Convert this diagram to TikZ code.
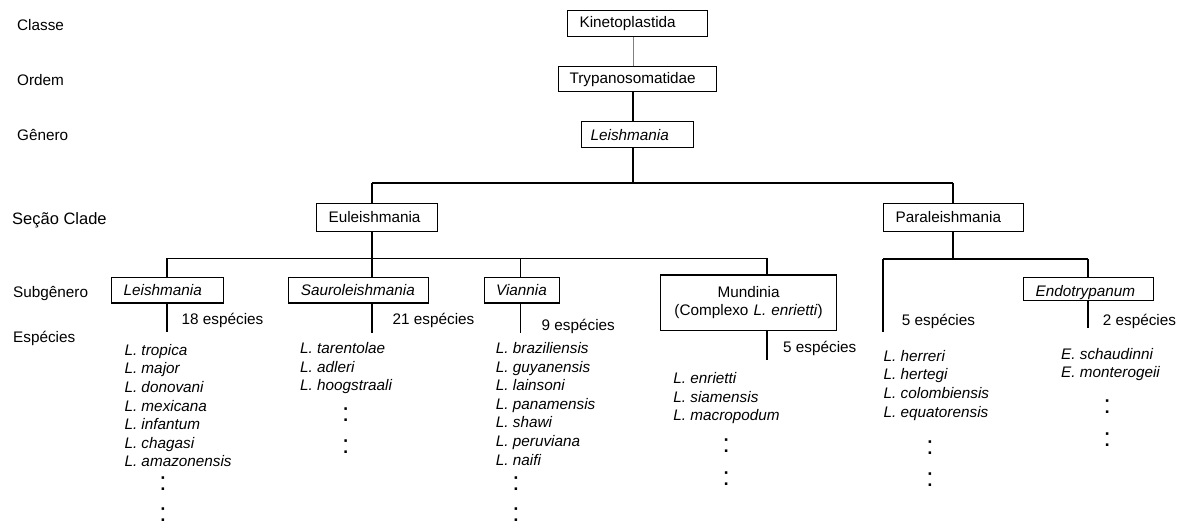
\documentclass[tikz,border=0pt]{standalone}
\usepackage{fontspec}
\setmainfont{Liberation Sans}
\begin{document}
\begin{tikzpicture}[x=1pt,y=-1pt,
  base/.style={font=\fontsize{15.3}{18.3}\selectfont, inner sep=0pt},
  box/.style={base, draw, line width=1.2pt, align=left, anchor=north west, inner ysep=0pt},
  lbl/.style={base, anchor=west, text height=11pt, text depth=3pt},
  lst/.style={base, font=\fontsize{15.3}{18.6}\selectfont\itshape, anchor=north west, align=left},
  colons/.style={font=\fontsize{26}{32.5}\selectfont, inner sep=0pt, align=center},
  conn/.style={line width=1.2pt},
  faint/.style={line width=0.8pt, gray}]
\useasboundingbox (0,0) rectangle (1188,528);

% rank labels
\node[lbl] (rClasse) at (17,26.7) {Classe};
\node[lbl] (rOrdem) at (17,81.7) {Ordem};
\node[lbl] (rGenero) at (17,136.7) {Gênero};
\node[lbl, font=\fontsize{16.5}{19}\selectfont, text height=12pt, text depth=3.5pt] (rSecao) at (12,220) {Seção Clade};
\node[lbl] (rSub) at (13,293.3) {Subgênero};
\node[lbl] (rEsp) at (13,338) {Espécies};

% boxes
\node[box, minimum height=26pt, inner xsep=12pt, text width=116pt] (kin) at (567,10) {Kinetoplastida};
\node[box, minimum height=25pt, inner xsep=11pt, text width=136pt] (tryp) at (558,66) {Trypanosomatidae};
\node[box, minimum height=26pt, inner xsep=9pt, text width=94pt] (gen) at (581,121) {\itshape Leishmania};
\node[box, minimum height=28.5pt, inner xsep=12pt, text width=97pt] (eul) at (316,202.5) {Euleishmania};
\node[box, minimum height=28.5pt, inner xsep=12pt, text width=116pt] (para) at (883,202.5) {Paraleishmania};
\node[box, minimum height=25.3pt, inner xsep=12pt, text width=88pt] (sleish) at (111,277) {\itshape Leishmania};
\node[box, minimum height=25.3pt, inner xsep=12.25pt, text width=115.5pt] (sauro) at (288,277) {\itshape Sauroleishmania};
\node[box, minimum height=25.3pt, inner xsep=11.5pt, text width=51.7pt] (vian) at (484,277) {\itshape Viannia};
\node[box, minimum height=55.7pt, inner xsep=0pt, text width=176pt, align=center] (mund) at (660,274.3) {Mundinia\\(Complexo \textit{L. enrietti})};
\node[box, minimum height=23pt, inner xsep=12pt, text width=106pt, text height=14pt, text depth=0pt] (endo) at (1023,277) {\itshape Endotrypanum};

% junction coordinates
\coordinate (j1) at (633,183);
\coordinate (h1L) at (372,183);
\coordinate (h1R) at (953,183);
\coordinate (h2L) at (167,258.3);
\coordinate (h2V) at (520.5,258.3);
\coordinate (h2R) at (767,258.3);
\coordinate (h3L) at (883,259);
\coordinate (h3P) at (953,259);
\coordinate (h3R) at (1088,259);
\coordinate (e18) at (167,331.7);
\coordinate (e21) at (372,332.7);
\coordinate (e9) at (520.5,332.7);
\coordinate (e5m) at (767,360);
\coordinate (e5p) at (883,332);
\coordinate (e2) at (1088,328);

% connectors
\draw[faint] (kin.south -| j1) -- (tryp.north -| j1);
\draw[conn] (tryp.south -| j1) -- (gen.north -| j1);
\draw[conn] (gen.south -| j1) -- (j1);
\draw[conn] (h1L) -- (h1R);
\draw[conn] (h1L) -- (eul.north -| h1L);
\draw[conn] (eul.south -| h1L) -- (sauro.north -| h1L);
\draw[conn] (h1R) -- (para.north -| h1R);
\draw[conn] (para.south -| h1R) -- (h3P);
\draw[conn] (h2L) -- (h2R);
\draw[conn] (h2L) -- (sleish.north -| h2L);
\draw[conn] (h2V) -- (vian.north -| h2V);
\draw[conn] (h2R) -- (mund.north -| h2R);
\draw[conn] (h3L) -- (h3R);
\draw[conn] (h3L) -- (e5p);
\draw[conn] (h3R) -- (endo.north -| h3R);
\draw[conn] (sleish.south -| h2L) -- (e18);
\draw[conn] (sauro.south -| h1L) -- (e21);
\draw[conn] (vian.south -| h2V) -- (e9);
\draw[conn] (mund.south -| h2R) -- (e5m);
\draw[conn] (endo.south -| h3R) -- (e2);

% counts
\node[lbl] (n18) at (181.5,320.7) {18 espécies};
\node[lbl] (n21) at (392.5,320.7) {21 espécies};
\node[lbl] (n9) at (541.5,326) {9 espécies};
\node[lbl] (n5m) at (783,348) {5 espécies};
\node[lbl] (n5p) at (901.7,321.7) {5 espécies};
\node[lbl] (n2) at (1102.7,321) {2 espécies};

% species lists
\node[lst] (s1) at (124.3,344) {L. tropica\\L. major\\L. donovani\\L. mexicana\\L. infantum\\L. chagasi\\L. amazonensis};
\node[lst] (s2) at (300,342.3) {L. tarentolae\\L. adleri\\L. hoogstraali};
\node[lst] (s3) at (495.7,342.3) {L. braziliensis\\L. guyanensis\\L. lainsoni\\L. panamensis\\L. shawi\\L. peruviana\\L. naifi};
\node[lst] (s4) at (673.2,372.3) {L. enrietti\\L. siamensis\\L. macropodum};
\node[lst] (s5) at (883.5,350) {L. herreri\\L. hertegi\\L. colombiensis\\L. equatorensis};
\node[lst] (s6) at (1061,348) {E. schaudinni\\E. monterogeii};

% continuation dots
\node[colons, font=\fontsize{26}{31}\selectfont] (d1) at (163,499) {:\\:};
\node[colons] (d2) at (345.7,430.6) {:\\:};
\node[colons, font=\fontsize{26}{31}\selectfont] (d3) at (516,499.5) {:\\:};
\node[colons] (d4) at (726.3,462.3) {:\\:};
\node[colons] (d5) at (930,463.8) {:\\:};
\node[colons] (d6) at (1107.3,423.2) {:\\:};
\end{tikzpicture}
\end{document}
